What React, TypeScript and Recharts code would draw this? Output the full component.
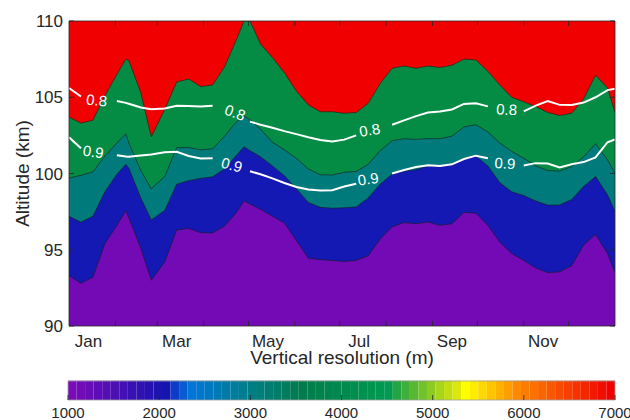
import React from "react"
import { ComposedChart, Area, Line, Scatter, XAxis, YAxis, CartesianGrid, ReferenceArea } from "recharts"

// day of year (Jan 1 = 1)
const days = [
  1, 9, 17, 25, 33, 39, 41, 49, 56, 65, 73, 81, 89, 97, 105, 113, 118, 122, 129, 137, 145, 153, 161, 169, 177,
  185, 193, 201, 209, 217, 225, 233, 241, 249, 257, 265, 273, 281, 289, 297, 305, 313, 321, 329, 337, 345, 353,
  361, 366,
]

// upper edge of each filled band (km)
const purpleTop = [
  93.3, 92.8, 93.2, 95.4, 96.6, 97.55, 97.1, 95.1, 93.0, 94.2, 96.3, 96.4, 96.12, 96.1, 96.55, 97.45, 98.2, 98.0,
  97.65, 97.2, 96.75, 95.6, 94.45, 94.35, 94.3, 94.23, 94.3, 94.6, 95.7, 96.5, 96.78, 96.7, 96.82, 96.6, 96.7,
  97.45, 97.4, 96.6, 95.5, 94.75, 94.3, 93.8, 93.5, 93.55, 93.95, 95.3, 96.0, 94.75, 93.5,
]
const blueTop = [
  97.2, 96.8, 97.2, 98.8, 99.95, 100.6, 100.35, 98.4, 96.95, 97.58, 99.3, 99.53, 99.68, 99.78, 100.3, 101.2, 101.75,
  101.5, 101.1, 100.5, 99.85, 99.0, 98.1, 97.78, 97.72, 97.75, 97.8, 98.4, 99.3, 99.95, 100.15, 100.25, 100.5,
  100.45, 100.6, 101.0, 101.15, 100.5, 99.4, 98.8, 98.55, 98.2, 97.93, 97.93, 98.3, 99.15, 99.8, 98.6, 97.5,
]
const tealTop = [
  99.7, 99.88, 100.1, 101.15, 102.0, 102.6, 102.0, 100.2, 99.0, 99.8, 101.7, 101.7, 101.55, 101.62, 102.45, 103.4,
  103.75, 103.55, 102.9, 102.05, 101.55, 101.0, 100.3, 99.92, 99.9, 100.08, 100.14, 100.6, 101.5, 102.15, 102.28,
  102.24, 102.29, 102.28, 102.45, 103.05, 103.2, 102.72, 102.0, 101.45, 101.0, 100.5, 100.2, 100.16, 100.45, 101.1,
  101.95, 100.9, 100.0,
]
const greenTop = [
  103.7, 103.3, 103.5, 105.1, 106.5, 107.5, 107.4, 105.3, 102.4, 104.2, 106.0, 106.2, 105.7, 105.8, 107.0, 108.8,
  110, 110, 108.5, 107.6, 106.6, 105.4, 104.5, 104.05, 104.05, 103.95, 104.0, 104.6, 105.9, 106.9, 107.05, 106.9,
  107.05, 106.95, 107.1, 107.5, 107.45, 106.7, 105.8, 105.0, 104.7, 104.4, 104.0, 103.8, 103.95, 104.9, 106.45,
  105.6, 104.0,
]

// white contour lines (null = gap for the label)
const line08 = [
  105.6, 105.05, null, null, 104.75, 104.63, 104.57, 104.33, 104.22, 104.26, 104.44, 104.42, 104.4, 104.44, null,
  null, null, 103.4, 103.2, 103.0, 102.78, 102.58, 102.38, 102.2, 102.1, 102.22, 102.5, null, null, 103.2, 103.48,
  103.76, 104.0, 104.06, 104.2, 104.56, 104.6, 104.4, null, null, 104.07, 104.45, 104.75, 104.5, 104.49, 104.65,
  105.0, 105.47, 105.56,
]
const line09 = [
  102.37, 101.65, null, null, 101.2, 101.12, 101.1, 101.18, 101.25, 101.4, 101.42, 101.15, 100.98, 101.0, null, null,
  null, 100.15, 99.95, 99.68, 99.38, 99.12, 98.95, 98.88, 98.9, 99.15, 99.33, null, null, 100.0, 100.23, 100.42,
  100.54, 100.5, 100.6, 100.95, 101.17, 101.0, null, null, 100.53, 100.68, 100.65, 100.4, 100.6, 100.75, 101.05,
  102.05, 102.24,
]

const labelTexts = ["0.8", "0.8", "0.8", "0.8", "0.9", "0.9", "0.9", "0.9"]
const labelDays = [19.5, 112, 202, 293.6, 17.2, 109.8, 201, 292.4]
const labelAlts = [104.8, 104.0, 102.85, 104.2, 101.43, 100.56, 99.64, 100.67]
const labelAngles = [6, 20, -10, 3, 8, 15, -8, 3]

const monthStarts = [32, 60, 91, 121, 152, 182, 213, 244, 274, 305, 335]
const monthLabelDays = [14, 73, 134, 195, 257, 318]
const monthLabels = ["Jan", "Mar", "May", "Jul", "Sep", "Nov"]
const altTicks = [90, 95, 100, 105, 110]
const cbarTicks = [1000, 2000, 3000, 4000, 5000, 6000, 7000]
const cbarMin = 1000
const cbarMax = 7000
const cbarCount = 64

// colour stops of the colorbar, by bin index
const cbarStops: [number, string][] = [
  [0, "#7a0bb8"],
  [11, "#1414b0"],
  [12, "#0c3cc8"],
  [13, "#0a5ad2"],
  [14, "#0076d8"],
  [21, "#007e84"],
  [27, "#007c4c"],
  [37, "#009a50"],
  [38, "#22a542"],
  [45, "#dce80a"],
  [46, "#ffff00"],
  [52, "#ff8a00"],
  [63, "#f00000"],
]

const FONT = '"Liberation Sans", Arial, Helvetica, sans-serif'
const INK = "#262626"

const rows = days.map((day, i) => ({
  day,
  purple: purpleTop[i],
  blue: blueTop[i],
  teal: tealTop[i],
  green: greenTop[i],
  c08: line08[i],
  c09: line09[i],
}))

const labels = labelDays.map((day, i) => ({ day, alt: labelAlts[i], text: labelTexts[i], angle: labelAngles[i] }))

const hex = (c: string) => [1, 3, 5].map((p) => parseInt(c.slice(p, p + 2), 16))
function binColor(k: number) {
  for (let s = 0; s < cbarStops.length - 1; s++) {
    const [k0, c0] = cbarStops[s]
    const [k1, c1] = cbarStops[s + 1]
    if (k >= k0 && k <= k1) {
      const t = (k - k0) / (k1 - k0)
      const a = hex(c0)
      const b = hex(c1)
      return `rgb(${a.map((v, j) => Math.round(v + (b[j] - v) * t)).join(",")})`
    }
  }
  return cbarStops[cbarStops.length - 1][1]
}
const binWidth = (cbarMax - cbarMin) / cbarCount
const cbarBins = Array.from({ length: cbarCount }, (_, k) => ({
  k,
  color: binColor(k),
  data: [
    { v: cbarMin + k * binWidth, h: 1 },
    { v: cbarMin + (k + 1) * binWidth, h: 1 },
  ],
}))

const BottomMark = (p: any) => <line x1={p.x} x2={p.x} y1={p.y} y2={p.y - 5} stroke={INK} strokeWidth={0.8} />
const TopMark = (p: any) => <line x1={p.x} x2={p.x} y1={p.y} y2={p.y + 5} stroke={INK} strokeWidth={0.8} />
const RightMark = (p: any) => <line x1={p.x} x2={p.x - 5} y1={p.y} y2={p.y} stroke={INK} strokeWidth={0.8} />

const LeftTick = (p: any) => (
  <g>
    <line x1={p.x} x2={p.x + 5} y1={p.y} y2={p.y} stroke={INK} strokeWidth={0.8} />
    <text x={p.x - 6} y={p.y} dy={6} textAnchor="end" fontSize={17} fill={INK} fontFamily={FONT}>
      {p.payload.value}
    </text>
  </g>
)

const MonthTick = (p: any) => (
  <text x={p.x} y={p.y + 19.5} textAnchor="middle" fontSize={17} fill={INK} fontFamily={FONT}>
    {monthLabels[p.index]}
  </text>
)

const CbarTick = (p: any) => (
  <g>
    <line x1={p.x} x2={p.x} y1={p.y} y2={p.y - 5} stroke={INK} strokeWidth={0.8} />
    <text x={p.x} y={p.y + 17.5} textAnchor="middle" fontSize={15} fill={INK} fontFamily={FONT}>
      {p.payload.value}
    </text>
  </g>
)

const ContourLabel = (p: any) => {
  const { cx, cy, payload } = p
  return (
    <text
      x={cx}
      y={cy}
      dy={5.3}
      textAnchor="middle"
      fontSize={15}
      fill="#ffffff"
      fontFamily={FONT}
      transform={`rotate(${payload.angle} ${cx} ${cy})`}
    >
      {payload.text}
    </text>
  )
}

const yTitle = (p: any) => {
  const vb = p.viewBox
  const x = 22
  const y = vb.y + vb.height / 2
  return (
    <text x={x} y={y} dy={6.5} transform={`rotate(-90 ${x} ${y})`} textAnchor="middle" fontSize={19} fill={INK} fontFamily={FONT}>
      Altitude (km)
    </text>
  )
}

const xTitle = (p: any) => {
  const vb = p.viewBox
  return (
    <text x={vb.x + vb.width / 2} y={364} textAnchor="middle" fontSize={19} fill={INK} fontFamily={FONT}>
      Vertical resolution (m)
    </text>
  )
}

export default function App() {
  return (
    <div style={{ position: "absolute", left: 0, top: 0, width: 630, height: 420, background: "#fff", fontFamily: FONT }}>
      <div style={{ position: "absolute", left: 0, top: 0 }}>
        <ComposedChart width={630} height={370} data={rows} margin={{ top: 20, right: 14, bottom: 42, left: 68 }}>
          <CartesianGrid horizontal={false} vertical={false} fill="#f00000" fillOpacity={1} />
          <Area dataKey="green" type="linear" baseValue={90} fill="#048c45" fillOpacity={1} stroke="#1a1a1a" strokeWidth={0.6} isAnimationActive={false} />
          <Area dataKey="teal" type="linear" baseValue={90} fill="#007a7b" fillOpacity={1} stroke="#1a1a1a" strokeWidth={0.6} isAnimationActive={false} />
          <Area dataKey="blue" type="linear" baseValue={90} fill="#1419b3" fillOpacity={1} stroke="#1a1a1a" strokeWidth={0.6} isAnimationActive={false} />
          <Area dataKey="purple" type="linear" baseValue={90} fill="#730ab6" fillOpacity={1} stroke="#1a1a1a" strokeWidth={0.6} isAnimationActive={false} />
          <Line dataKey="c08" type="linear" stroke="#ffffff" strokeWidth={2} dot={false} isAnimationActive={false} />
          <Line dataKey="c09" type="linear" stroke="#ffffff" strokeWidth={2} dot={false} isAnimationActive={false} />
          <Scatter data={labels} dataKey="alt" shape={ContourLabel} isAnimationActive={false} />
          <XAxis
            dataKey="day"
            type="number"
            domain={[1, 366]}
            ticks={monthStarts}
            height={1}
            tickSize={0}
            tickMargin={0}
            tick={BottomMark}
            axisLine={{ stroke: INK, strokeWidth: 0.8 }}
            allowDataOverflow
            label={{ content: xTitle }}
          />
          <XAxis
            xAxisId="lab"
            dataKey="day"
            type="number"
            domain={[1, 366]}
            ticks={monthLabelDays}
            height={1}
            tickSize={0}
            tickMargin={0}
            tick={MonthTick}
            axisLine={false}
            allowDataOverflow
          />
          <XAxis
            xAxisId="top"
            orientation="top"
            dataKey="day"
            type="number"
            domain={[1, 366]}
            ticks={monthStarts}
            height={1}
            tickSize={0}
            tickMargin={0}
            tick={TopMark}
            axisLine={{ stroke: INK, strokeWidth: 0.8 }}
            allowDataOverflow
          />
          <YAxis
            type="number"
            domain={[90, 110]}
            ticks={altTicks}
            width={1}
            tickSize={0}
            tickMargin={0}
            tick={LeftTick}
            axisLine={{ stroke: INK, strokeWidth: 0.8 }}
            allowDataOverflow
            label={{ content: yTitle }}
          />
          <YAxis
            yAxisId="r"
            orientation="right"
            type="number"
            domain={[90, 110]}
            ticks={altTicks}
            width={1}
            tickSize={0}
            tickMargin={0}
            tick={RightMark}
            axisLine={{ stroke: INK, strokeWidth: 0.8 }}
            allowDataOverflow
          />
        </ComposedChart>
      </div>
      <div style={{ position: "absolute", left: 0, top: 370 }}>
        <ComposedChart width={630} height={50} margin={{ top: 11, right: 15, bottom: 19, left: 68 }}>
          {cbarBins.map((b) => (
            <Area
              key={b.k}
              data={b.data}
              dataKey="h"
              type="linear"
              baseValue={0}
              fill={b.color}
              fillOpacity={1}
              stroke={b.color}
              strokeWidth={0.6}
              isAnimationActive={false}
            />
          ))}
          <ReferenceArea x1={cbarMin} x2={cbarMax} y1={0} y2={1} fill="none" stroke="#a0a0a0" strokeWidth={0.8} />
          <XAxis
            dataKey="v"
            type="number"
            domain={[cbarMin, cbarMax]}
            ticks={cbarTicks}
            height={1}
            tickSize={0}
            tickMargin={0}
            tick={CbarTick}
            axisLine={false}
            allowDataOverflow
            interval={0}
          />
          <YAxis hide type="number" domain={[0, 1]} width={0} />
        </ComposedChart>
      </div>
    </div>
  )
}
